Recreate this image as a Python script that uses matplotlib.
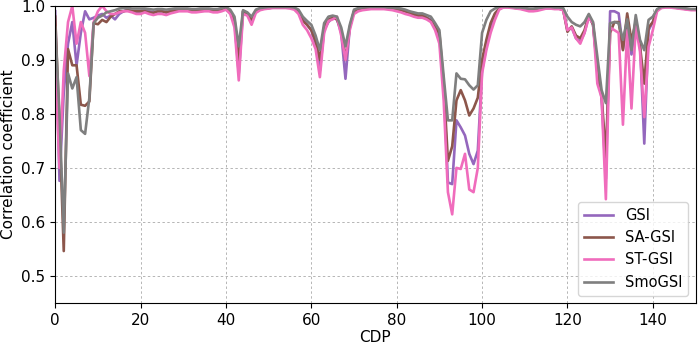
import numpy as np
import matplotlib.pyplot as plt

cdp = np.arange(151)

gsi = [
    0.99, 0.676, 0.84, 0.93, 0.97, 0.89, 0.95, 0.99, 0.975, 0.978,
    0.982, 0.985, 0.978, 0.982, 0.975, 0.985, 0.99, 0.993, 0.99, 0.988,
    0.99, 0.992, 0.99, 0.988, 0.99, 0.99, 0.988, 0.99, 0.992, 0.993,
    0.993, 0.992, 0.99, 0.99, 0.992, 0.993, 0.992, 0.99, 0.99, 0.993,
    0.995, 0.99, 0.97, 0.875, 0.99, 0.985, 0.972, 0.99, 0.995, 0.995,
    0.996, 0.997, 0.997, 0.997, 0.997, 0.997, 0.996, 0.99, 0.975, 0.965,
    0.955, 0.93, 0.88, 0.955, 0.97, 0.978, 0.975, 0.95, 0.865, 0.96,
    0.99, 0.993, 0.995, 0.996, 0.997, 0.997, 0.997, 0.997, 0.996, 0.996,
    0.995, 0.993, 0.99, 0.988, 0.985, 0.982, 0.983, 0.978, 0.975, 0.96,
    0.94, 0.855, 0.673, 0.67, 0.788, 0.775, 0.76, 0.726, 0.707, 0.732,
    0.88, 0.924, 0.955, 0.983, 0.995, 0.998, 0.998, 0.997, 0.996, 0.995,
    0.994, 0.993, 0.992, 0.993, 0.995, 0.996, 0.996, 0.995, 0.995, 0.993,
    0.955, 0.96, 0.94, 0.934, 0.95, 0.983, 0.965, 0.88, 0.83, 0.68,
    0.99, 0.99, 0.986, 0.92, 0.975, 0.91, 0.975, 0.93, 0.745, 0.955,
    0.97, 0.993, 0.997, 0.998, 0.998, 0.997, 0.996, 0.995, 0.994, 0.993, 0.993,
]

sa_gsi = [
    0.98, 0.78, 0.546, 0.92, 0.89, 0.89, 0.817, 0.815, 0.823, 0.968,
    0.966, 0.974, 0.97, 0.98, 0.985, 0.99, 0.99, 0.992, 0.99, 0.99,
    0.99, 0.99, 0.988, 0.987, 0.99, 0.99, 0.988, 0.99, 0.991, 0.992,
    0.992, 0.992, 0.99, 0.99, 0.991, 0.992, 0.992, 0.99, 0.99, 0.992,
    0.994, 0.99, 0.975, 0.9, 0.99, 0.985, 0.975, 0.99, 0.994, 0.995,
    0.996, 0.997, 0.997, 0.997, 0.997, 0.997, 0.995, 0.988, 0.972, 0.965,
    0.955, 0.935, 0.9, 0.96, 0.975, 0.978, 0.975, 0.955, 0.9, 0.96,
    0.99, 0.993, 0.995, 0.996, 0.997, 0.997, 0.997, 0.997, 0.996, 0.995,
    0.994, 0.992, 0.99, 0.987, 0.984, 0.982, 0.982, 0.978, 0.972, 0.96,
    0.95, 0.856, 0.713, 0.74, 0.825, 0.844, 0.825, 0.797, 0.81, 0.83,
    0.9, 0.937, 0.968, 0.986, 0.995, 0.998, 0.998, 0.997, 0.996, 0.995,
    0.994, 0.992, 0.992, 0.993, 0.995, 0.996, 0.996, 0.995, 0.995, 0.993,
    0.952, 0.962, 0.945, 0.94, 0.955, 0.983, 0.965, 0.887, 0.835, 0.72,
    0.95, 0.97, 0.97, 0.918, 0.986, 0.935, 0.97, 0.925, 0.856, 0.96,
    0.97, 0.992, 0.997, 0.998, 0.998, 0.997, 0.996, 0.995, 0.994, 0.993, 0.993,
]

st_gsi = [
    0.90, 0.70, 0.88, 0.97, 1.0, 0.93, 0.97, 0.95, 0.87, 0.97,
    0.99, 1.0, 0.99, 0.985, 0.985, 0.988, 0.99, 0.99, 0.988, 0.985,
    0.985, 0.988, 0.985, 0.983, 0.985, 0.985, 0.983, 0.986, 0.988, 0.99,
    0.99, 0.99, 0.988, 0.988, 0.989, 0.99, 0.99, 0.988, 0.988, 0.99,
    0.993, 0.985, 0.96, 0.862, 0.985, 0.982, 0.965, 0.987, 0.992, 0.994,
    0.995, 0.996, 0.996, 0.996, 0.996, 0.995, 0.993, 0.985, 0.965, 0.955,
    0.94, 0.92, 0.868, 0.95, 0.972, 0.975, 0.98, 0.945, 0.9, 0.955,
    0.985, 0.99, 0.992, 0.993, 0.994, 0.994, 0.994, 0.994, 0.993, 0.992,
    0.99, 0.988, 0.985, 0.983, 0.98, 0.978, 0.978, 0.975, 0.97, 0.955,
    0.93, 0.825, 0.655, 0.614, 0.70, 0.698, 0.726, 0.66, 0.655, 0.70,
    0.875, 0.918, 0.95, 0.974, 0.993, 0.997, 0.997, 0.996, 0.995, 0.994,
    0.992, 0.99, 0.99, 0.991, 0.993, 0.995, 0.995, 0.994, 0.994, 0.992,
    0.955, 0.96, 0.94, 0.93, 0.95, 0.978, 0.968, 0.856, 0.83, 0.642,
    0.96, 0.955, 0.95, 0.78, 0.955, 0.81, 0.962, 0.915, 0.794, 0.924,
    0.955, 0.99, 0.996, 0.997, 0.997, 0.996, 0.995, 0.994, 0.993, 0.992, 0.992,
]

smo_gsi = [
    0.96, 0.80, 0.58, 0.875, 0.847, 0.868, 0.77, 0.763, 0.83, 0.968,
    0.978, 0.982, 0.988, 0.99, 0.992, 0.995, 0.996, 0.996, 0.995, 0.995,
    0.995, 0.995, 0.994, 0.993, 0.994, 0.994, 0.993, 0.994, 0.995, 0.995,
    0.995, 0.995, 0.994, 0.994, 0.995, 0.995, 0.995, 0.994, 0.994, 0.996,
    0.998, 0.993, 0.98, 0.925, 0.992, 0.988, 0.98, 0.993, 0.996, 0.997,
    0.998, 0.998, 0.998, 0.998, 0.998, 0.998, 0.997, 0.993, 0.98, 0.972,
    0.965, 0.945, 0.918, 0.968, 0.98, 0.982, 0.98, 0.96, 0.925, 0.965,
    0.993, 0.996, 0.997, 0.998, 0.998, 0.998, 0.998, 0.998, 0.997, 0.997,
    0.996, 0.995, 0.993, 0.99, 0.988, 0.986, 0.986, 0.983, 0.98, 0.968,
    0.955, 0.87, 0.788, 0.788, 0.875, 0.865, 0.864, 0.853, 0.845, 0.853,
    0.95, 0.974, 0.99, 0.995, 0.999, 0.999, 0.999, 0.998, 0.997, 0.997,
    0.996, 0.995, 0.995, 0.996, 0.997, 0.998, 0.998, 0.997, 0.997, 0.996,
    0.98, 0.97, 0.965, 0.962, 0.97, 0.985, 0.97, 0.906, 0.844, 0.82,
    0.968, 0.97, 0.968, 0.937, 0.975, 0.918, 0.983, 0.937, 0.918, 0.974,
    0.98, 0.994, 0.998, 0.999, 0.999, 0.998, 0.997, 0.996, 0.995, 0.994, 0.994,
]

fig = plt.figure(figsize=(6.99, 3.45), dpi=100)
ax = fig.add_axes([0.079, 0.122, 0.916, 0.861])

ax.plot(cdp, gsi, color="tab:purple", lw=1.9, label="GSI")
ax.plot(cdp, sa_gsi, color="tab:brown", lw=1.9, label="SA-GSI")
ax.plot(cdp, st_gsi, color="#f06cbc", lw=1.9, label="ST-GSI")
ax.plot(cdp, smo_gsi, color="tab:gray", lw=1.9, label="SmoGSI")

ax.set_xlim(0, 150)
ax.set_ylim(0.45, 1.0)
ax.set_yticks([0.5, 0.6, 0.7, 0.8, 0.9, 1.0])
ax.grid(True, linestyle=(0, (2.5, 2.5)), color="#b5b5b5", linewidth=0.7)
ax.set_xlabel("CDP", fontsize=11, labelpad=2)
ax.set_ylabel("Correlation coefficient", fontsize=11)
ax.tick_params(labelsize=11)
ax.legend(loc="lower right", fontsize=10.5)

plt.savefig("out.png", dpi=100)
